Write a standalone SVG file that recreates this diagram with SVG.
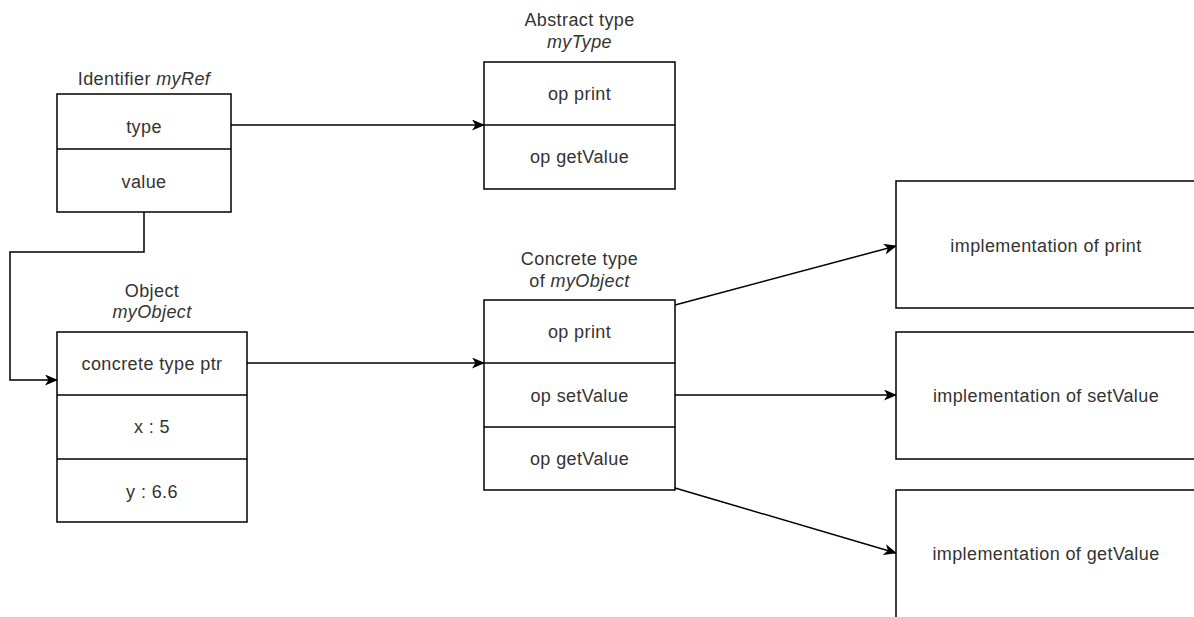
<svg xmlns="http://www.w3.org/2000/svg" width="1194" height="617" viewBox="0 0 1194 617">
<defs>
<marker id="arr" viewBox="0 0 13 11" refX="12" refY="5.5" markerWidth="13" markerHeight="11" markerUnits="userSpaceOnUse" orient="auto">
<path d="M0,0 L13,5.5 L0,11 L3.5,5.5 Z" fill="#000"/>
</marker>
</defs>
<style>
.box{fill:#fff;stroke:#000;stroke-width:1.5}
.ln{fill:none;stroke:#000;stroke-width:1.5}
text{font-family:"Liberation Sans",Arial,sans-serif;font-size:18px;fill:#333;text-anchor:middle;letter-spacing:0.4px}
.it{font-style:italic}
</style>
<rect width="1194" height="617" fill="#fff"/>
<g id="connectors">
<path class="ln" d="M231,125 L484,125" marker-end="url(#arr)"/>
<path class="ln" d="M144,212 L144,252 L10,252 L10,380 L57,380" marker-end="url(#arr)"/>
<path class="ln" d="M247,363 L484,363" marker-end="url(#arr)"/>
<path class="ln" d="M675,305 L896,246" marker-end="url(#arr)"/>
<path class="ln" d="M675,395 L896,395" marker-end="url(#arr)"/>
<path class="ln" d="M675,488 L896,553" marker-end="url(#arr)"/>
</g>
<g id="identifier">
<text x="144" y="85">Identifier <tspan class="it">myRef</tspan></text>
<rect class="box" x="57" y="94" width="174" height="118"/>
<line class="ln" x1="57" y1="149" x2="231" y2="149"/>
<text x="144" y="133">type</text>
<text x="144" y="188">value</text>
</g>
<g id="abstract-type">
<text x="579.5" y="26">Abstract type</text>
<text x="579.5" y="48" class="it">myType</text>
<rect class="box" x="484" y="62" width="191" height="127"/>
<line class="ln" x1="484" y1="125" x2="675" y2="125"/>
<text x="579.5" y="100">op print</text>
<text x="579.5" y="163">op getValue</text>
</g>
<g id="object">
<text x="152" y="297">Object</text>
<text x="152" y="318" class="it">myObject</text>
<rect class="box" x="57" y="332" width="190" height="190"/>
<line class="ln" x1="57" y1="395" x2="247" y2="395"/>
<line class="ln" x1="57" y1="459" x2="247" y2="459"/>
<text x="152" y="370">concrete type ptr</text>
<text x="152" y="433">x : 5</text>
<text x="152" y="498">y : 6.6</text>
</g>
<g id="concrete-type">
<text x="579.5" y="265">Concrete type</text>
<text x="579.5" y="287">of <tspan class="it">myObject</tspan></text>
<rect class="box" x="484" y="300" width="191" height="190"/>
<line class="ln" x1="484" y1="363" x2="675" y2="363"/>
<line class="ln" x1="484" y1="427" x2="675" y2="427"/>
<text x="579.5" y="338">op print</text>
<text x="579.5" y="402">op setValue</text>
<text x="579.5" y="465">op getValue</text>
</g>
<g id="impl-print">
<rect class="box" x="896" y="181" width="300" height="127"/>
<text x="1046" y="252">implementation of print</text>
</g>
<g id="impl-setValue">
<rect class="box" x="896" y="332" width="300" height="127"/>
<text x="1046" y="402">implementation of setValue</text>
</g>
<g id="impl-getValue">
<rect class="box" x="896" y="490" width="300" height="140"/>
<text x="1046" y="560">implementation of getValue</text>
</g>
</svg>
